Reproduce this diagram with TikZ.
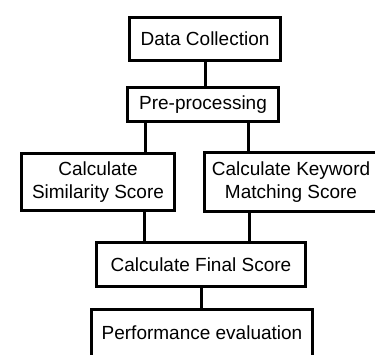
\documentclass[tikz,border=0pt]{standalone}
\usepackage{fontspec}
\setmainfont{Liberation Sans}
\usepackage{tikz}
\usetikzlibrary{positioning, calc}

\begin{document}
\begin{tikzpicture}[x=1pt, y=-1pt, every node/.style={draw, rectangle, line width=3pt, inner sep=0pt, align=center, font=\fontsize{19}{22.5}\selectfont}]
  \useasboundingbox (0,0) rectangle (375,354);
  \node (collect) [minimum width=151pt, minimum height=43pt] at (205,38.5) {Data Collection};
  \node (preproc) [minimum width=151pt, minimum height=34pt] at (203,104.5) {Pre-processing};
  \node (simscore) [minimum width=153pt, minimum height=57pt] at (98,182) {Calculate\\Similarity Score};
  \node (keyscore) [minimum width=173pt, minimum height=59pt] at (291,182) {Calculate Keyword\\Matching Score};
  \node (final) [minimum width=209pt, minimum height=44pt] at (201,264.5) {Calculate Final Score};
  \node (perf) [minimum width=221pt, minimum height=48pt] at (202,333) {Performance evaluation};
  \draw[line width=3pt] (collect.south) -- (collect.south |- preproc.north);
  \draw[line width=3pt] ([xshift=-58pt]preproc.south) -- ([xshift=-58pt]preproc.south |- simscore.north);
  \draw[line width=3pt] ([xshift=45pt]preproc.south) -- ([xshift=45pt]preproc.south |- keyscore.north);
  \draw[line width=3pt] ([xshift=46pt]simscore.south) -- ([xshift=46pt]simscore.south |- final.north);
  \draw[line width=3pt] ([xshift=-42pt]keyscore.south) -- ([xshift=-42pt]keyscore.south |- final.north);
  \draw[line width=3pt] (final.south) -- (final.south |- perf.north);
\end{tikzpicture}
\end{document}
